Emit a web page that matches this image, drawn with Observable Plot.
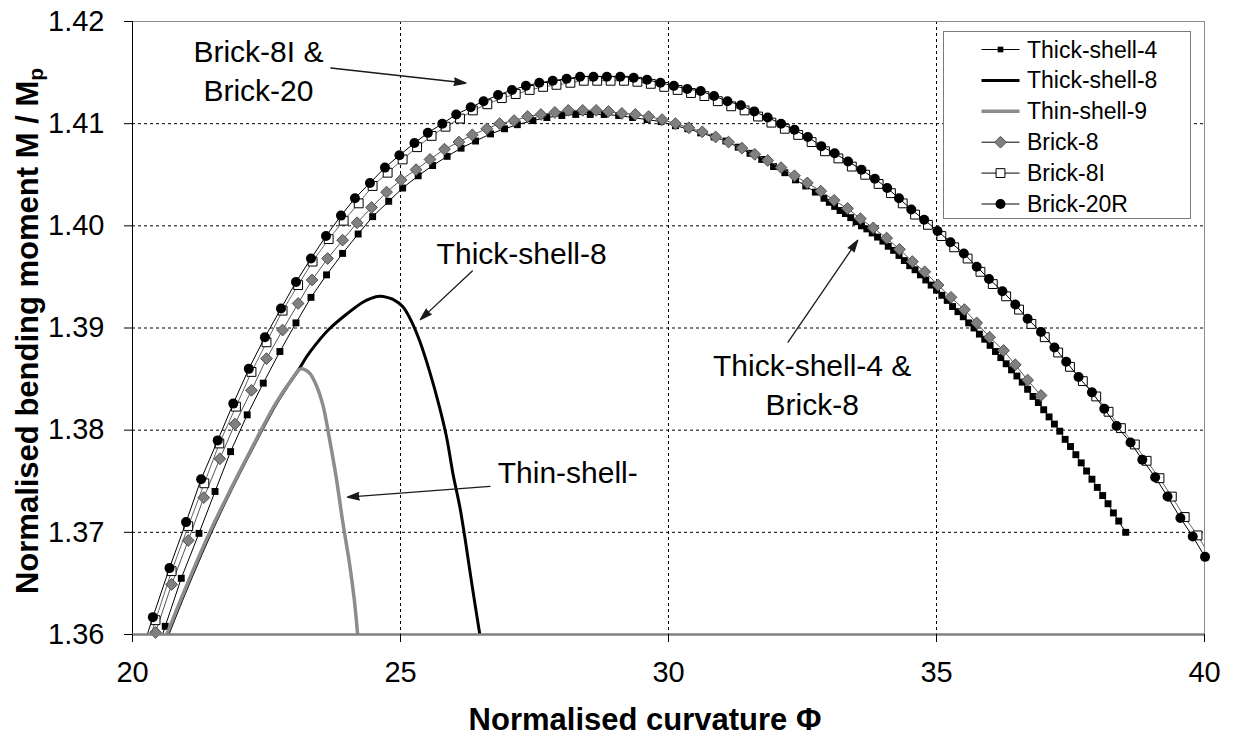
<!DOCTYPE html>
<html>
<head>
<meta charset="utf-8">
<script src="https://cdn.jsdelivr.net/npm/d3@7"></script>
<script src="https://cdn.jsdelivr.net/npm/@observablehq/plot@0.6"></script>
<style>
  body { margin: 0; background: #fff; }
  #chart { position: relative; width: 1237px; height: 738px; font-family: "Liberation Sans", Arial, sans-serif; }
  #legend { position: absolute; left: 943px; top: 31px; width: 248px; height: 188px;
            border: 1.5px solid #7a7a7a; background: #fff; box-sizing: border-box; }
</style>
</head>
<body>
<div id="chart"><div id="legend"></div></div>
<script>
// Moment–curvature response near the limit point for the different element types.
// Each series is a list of [curvature Φ, M / Mp] pairs.
const thickShell4 = [
  [20.31,1.3558],[20.61,1.3608],[20.91,1.3655],[21.24,1.3699],[21.54,1.3740],[21.83,1.3779],[22.14,1.3815],
  [22.44,1.3846],[22.75,1.3877],[23.05,1.3905],[23.33,1.3930],[23.62,1.3952],[23.92,1.3973],[24.21,1.3992],
  [24.48,1.4009],[24.78,1.4024],[25.04,1.4037],[25.33,1.4049],[25.60,1.4059],[25.87,1.4068],[26.13,1.4076],
  [26.40,1.4083],[26.68,1.4090],[26.94,1.4095],[27.18,1.4099],[27.47,1.4103],[27.73,1.4106],[28.01,1.4108],
  [28.27,1.4109],[28.54,1.4109],[28.80,1.4109],[29.07,1.4108],[29.33,1.4106],[29.60,1.4104],[29.86,1.4102],
  [30.13,1.4098],[30.36,1.4095],[30.60,1.4091],[30.85,1.4087],[31.07,1.4083],[31.30,1.4077],[31.52,1.4071],
  [31.74,1.4065],[31.96,1.4058],[32.17,1.4052],[32.37,1.4045],[32.56,1.4039],[32.74,1.4033],[32.90,1.4027],
  [33.0,1.4023],[33.1,1.4019],[33.2,1.4015],[33.3,1.4012],[33.4,1.4008],[33.5,1.4004],[33.6,1.4000],
  [33.7,1.3997],[33.8,1.3993],[33.9,1.3989],[34.0,1.3985],[34.1,1.3980],[34.2,1.3976],[34.3,1.3971],
  [34.4,1.3966],[34.5,1.3961],[34.6,1.3957],[34.7,1.3952],[34.8,1.3947],[34.9,1.3942],[35.0,1.3937],
  [35.1,1.3932],[35.2,1.3927],[35.3,1.3921],[35.4,1.3916],[35.5,1.3911],[35.6,1.3905],[35.7,1.3900],
  [35.8,1.3894],[35.9,1.3889],[36.0,1.3883],[36.1,1.3877],[36.2,1.3871],[36.3,1.3865],[36.4,1.3859],
  [36.5,1.3853],[36.6,1.3847],[36.7,1.3840],[36.8,1.3833],[36.9,1.3827],[37.0,1.3820],[37.1,1.3813],
  [37.2,1.3806],[37.3,1.3799],[37.4,1.3791],[37.5,1.3784],[37.6,1.3776],[37.7,1.3768],[37.8,1.3760],
  [37.9,1.3752],[38.0,1.3744],[38.1,1.3736],[38.2,1.3728],[38.3,1.3719],[38.4,1.3711],[38.53,1.3700]
];

const thickShell8 = [
  [20.66,1.3600],[20.99,1.3643],[21.46,1.3700],[21.86,1.3744],[22.27,1.3786],[22.67,1.3825],[22.90,1.3844],
  [23.11,1.3860],[23.25,1.3872],[23.42,1.3884],[23.67,1.3899],[23.98,1.3913],[24.29,1.3925],[24.45,1.3929],
  [24.61,1.3931],[24.75,1.3930],[24.86,1.3928],[25.04,1.3921],[25.20,1.3907],[25.36,1.3887],[25.54,1.3858],
  [25.73,1.3822],[25.86,1.3793],[25.98,1.3757],[26.11,1.3724],[26.23,1.3685],[26.35,1.3643],[26.48,1.3600]
];

const thinShell9 = [
  [20.64,1.3600],[20.98,1.3644],[21.45,1.3701],[21.86,1.3745],[22.27,1.3787],[22.67,1.3826],[22.95,1.3848],
  [23.14,1.3860],[23.30,1.3856],[23.42,1.3845],[23.55,1.3825],[23.67,1.3793],[23.80,1.3754],[23.92,1.3711],
  [24.05,1.3669],[24.14,1.3633],[24.20,1.3600]
];

const brick8 = [
  [20.13,1.3553],[20.43,1.3602],[20.73,1.3649],[21.04,1.3692],[21.33,1.3734],[21.63,1.3772],[21.91,1.3806],
  [22.22,1.3839],[22.50,1.3870],[22.80,1.3898],[23.09,1.3924],[23.35,1.3947],[23.64,1.3968],[23.92,1.3986],
  [24.19,1.4003],[24.46,1.4018],[24.74,1.4033],[25.01,1.4045],[25.29,1.4055],[25.55,1.4065],[25.82,1.4075],
  [26.09,1.4082],[26.34,1.4089],[26.61,1.4095],[26.85,1.4100],[27.12,1.4103],[27.37,1.4107],[27.62,1.4109],
  [27.88,1.4111],[28.13,1.4113],[28.40,1.4113],[28.65,1.4113],[28.88,1.4112],[29.13,1.4110],[29.38,1.4109],
  [29.63,1.4107],[29.88,1.4104],[30.13,1.4100],[30.38,1.4096],[30.63,1.4092],[30.88,1.4087],[31.12,1.4082],
  [31.37,1.4076],[31.61,1.4070],[31.85,1.4064],[32.10,1.4057],[32.35,1.4049],[32.59,1.4042],[32.84,1.4034],
  [33.09,1.4025],[33.34,1.4017],[33.58,1.4007],[33.82,1.3998],[34.07,1.3988],[34.31,1.3977],[34.55,1.3965],
  [34.78,1.3955],[35.03,1.3942],[35.27,1.3930],[35.52,1.3918],[35.75,1.3905],[35.99,1.3891],[36.25,1.3878],
  [36.47,1.3864],[36.70,1.3849],[36.95,1.3834]
];

const brick8I = [
  [20.13,1.3563],[20.43,1.3614],[20.73,1.3662],[21.04,1.3706],[21.34,1.3748],[21.62,1.3787],[21.93,1.3823],
  [22.22,1.3857],[22.50,1.3886],[22.80,1.3917],[23.09,1.3942],[23.36,1.3965],[23.66,1.3987],[23.94,1.4005],
  [24.22,1.4022],[24.48,1.4039],[24.76,1.4052],[25.04,1.4065],[25.31,1.4077],[25.58,1.4088],[25.84,1.4097],
  [26.11,1.4105],[26.35,1.4113],[26.62,1.4119],[26.89,1.4125],[27.15,1.4129],[27.41,1.4133],[27.66,1.4136],
  [27.91,1.4138],[28.17,1.4140],[28.42,1.4142],[28.67,1.4142],[28.92,1.4142],[29.17,1.4142],[29.42,1.4141],
  [29.67,1.4139],[29.92,1.4136],[30.17,1.4133],[30.42,1.4130],[30.67,1.4127],[30.92,1.4122],[31.17,1.4117],
  [31.42,1.4113],[31.67,1.4107],[31.92,1.4101],[32.17,1.4095],[32.42,1.4089],[32.67,1.4082],[32.92,1.4073],
  [33.17,1.4066],[33.42,1.4058],[33.67,1.4050],[33.92,1.4041],[34.15,1.4032],[34.37,1.4022],[34.60,1.4011],
  [34.84,1.4001],[35.09,1.3990],[35.33,1.3979],[35.58,1.3968],[35.82,1.3955],[36.05,1.3943],[36.30,1.3931],
  [36.54,1.3918],[36.77,1.3904],[37.02,1.3891],[37.27,1.3876],[37.49,1.3862],[37.73,1.3848],[37.98,1.3833],
  [38.21,1.3818],[38.44,1.3802],[38.70,1.3786],[38.92,1.3770],[39.16,1.3753],[39.39,1.3735],[39.63,1.3715],
  [39.87,1.3697],[40.11,1.3676]
];

const brick20R = [
  [20.07,1.3566],[20.38,1.3617],[20.69,1.3665],[21.00,1.3710],[21.28,1.3752],[21.59,1.3790],[21.88,1.3826],
  [22.17,1.3860],[22.47,1.3891],[22.77,1.3919],[23.05,1.3945],[23.33,1.3968],[23.61,1.3990],[23.89,1.4010],
  [24.15,1.4027],[24.43,1.4042],[24.71,1.4057],[24.98,1.4069],[25.26,1.4081],[25.51,1.4091],[25.78,1.4100],
  [26.04,1.4109],[26.31,1.4116],[26.55,1.4122],[26.82,1.4128],[27.08,1.4133],[27.34,1.4137],[27.59,1.4140],
  [27.84,1.4142],[28.10,1.4144],[28.35,1.4146],[28.60,1.4146],[28.85,1.4146],[29.10,1.4146],[29.35,1.4145],
  [29.60,1.4143],[29.85,1.4140],[30.10,1.4137],[30.35,1.4134],[30.60,1.4132],[30.85,1.4127],[31.10,1.4122],
  [31.35,1.4118],[31.60,1.4112],[31.85,1.4106],[32.10,1.4100],[32.35,1.4094],[32.60,1.4087],[32.85,1.4078],
  [33.10,1.4071],[33.35,1.4063],[33.60,1.4055],[33.85,1.4046],[34.08,1.4037],[34.30,1.4027],[34.53,1.4016],
  [34.77,1.4006],[35.02,1.3995],[35.26,1.3984],[35.51,1.3973],[35.75,1.3960],[35.98,1.3948],[36.23,1.3936],
  [36.47,1.3923],[36.70,1.3909],[36.95,1.3896],[37.20,1.3881],[37.42,1.3867],[37.65,1.3852],[37.90,1.3837],
  [38.13,1.3821],[38.36,1.3804],[38.62,1.3788],[38.84,1.3771],[39.08,1.3754],[39.31,1.3735],[39.55,1.3714],
  [39.78,1.3696],[40.01,1.3676],[40.24,1.3655]
];

const xTicks = [20, 25, 30, 35, 40];
const yTicks = [1.36, 1.37, 1.38, 1.39, 1.40, 1.41, 1.42];

// Callout labels and the arrows pointing at their curves
const notes = [
  {x: 22.35, y: 1.41539, text: "Brick-8I &\nBrick-20"},
  {x: 27.26, y: 1.39750, text: "Thick-shell-8"},
  {x: 28.12, y: 1.37606, text: "Thin-shell-"},
  {x: 32.68, y: 1.38466, text: "Thick-shell-4 &\nBrick-8"}
];
const arrows = [
  {x1: 23.70, y1: 1.41545, x2: 26.22, y2: 1.41398},
  {x1: 26.34, y1: 1.39558, x2: 25.37, y2: 1.39082},
  {x1: 26.67, y1: 1.37450, x2: 24.01, y2: 1.37345},
  {x1: 32.23, y1: 1.38862, x2: 33.53, y2: 1.39858}
];

// Drawing order and styles for each series
const series = [
  {name: "Thick-shell-4", data: thickShell4, stroke: "#000", width: 1, curve: "linear",
   symbol: "square", r: 3.9, fill: "#000", symStroke: "none"},
  {name: "Thick-shell-8", data: thickShell8, stroke: "#000", width: 3, curve: "catmull-rom"},
  {name: "Thin-shell-9", data: thinShell9, stroke: "#8c8c8c", width: 3.5, curve: "catmull-rom"},
  {name: "Brick-8", data: brick8, stroke: "#555", width: 1, curve: "linear",
   symbol: "diamond2", r: 5.3, fill: "#808080", symStroke: "#505050"},
  {name: "Brick-8I", data: brick8I, stroke: "#666", width: 1, curve: "linear",
   symbol: "square", r: 5.0, fill: "#fff", symStroke: "#000"},
  {name: "Brick-20R", data: brick20R, stroke: "#000", width: 1, curve: "linear",
   symbol: "circle", r: 5.0, fill: "#000", symStroke: "none"}
];

const inView = ([x, y]) => y >= 1.3599 && x <= 40.02;

const marks = [
  Plot.gridX(xTicks.slice(1, -1), {stroke: "#000", strokeOpacity: 1, strokeWidth: 1, strokeDasharray: "3,3"}),
  Plot.gridY(yTicks.slice(1, -1), {stroke: "#000", strokeOpacity: 1, strokeWidth: 1, strokeDasharray: "3,3"}),
  Plot.frame({stroke: "#8c8c8c"}),
  Plot.ruleX([20], {stroke: "#000", strokeWidth: 1})
];

for (const s of series) {
  marks.push(Plot.line(s.data, {
    x: d => d[0], y: d => d[1], stroke: s.stroke, strokeWidth: s.width,
    curve: s.curve, clip: true, strokeLinejoin: "round"
  }));
  if (s.symbol) {
    marks.push(Plot.dot(s.data.filter(inView), {
      x: d => d[0], y: d => d[1], symbol: () => s.symbol, r: s.r,
      fill: s.fill, stroke: s.symStroke, strokeWidth: 1
    }));
  }
}

marks.push(
  Plot.ruleY([1.36], {stroke: "#808080", strokeWidth: 2.5}),
  Plot.axisX({ticks: xTicks, tickSize: 8, tickPadding: 19, fontSize: 29, label: null, tickFormat: d3.format("d")}),
  Plot.axisY({ticks: yTicks, tickSize: 8, tickPadding: 20, fontSize: 29, label: null, tickFormat: d3.format(".2f")}),
  Plot.arrow(arrows, {x1: "x1", y1: "y1", x2: "x2", y2: "y2", stroke: "#1a1a1a", fill: "#1a1a1a",
    strokeWidth: 1.3, headLength: 14, headAngle: 34, bend: 0}),
  Plot.text(notes, {x: "x", y: "y", text: "text", fontSize: 30, lineHeight: 1.3, textAnchor: "middle", fill: "#000"})
);

const chart = Plot.plot({
  width: 1237,
  height: 738,
  marginLeft: 132,
  marginRight: 33,
  marginTop: 21,
  marginBottom: 104,
  x: {domain: [20, 40]},
  y: {domain: [1.36, 1.42]},
  style: {fontFamily: '"Liberation Sans", Arial, sans-serif', fontSize: "29px", color: "#000", background: "#fff", overflow: "visible"},
  marks
});

const container = document.getElementById("chart");
container.insertBefore(chart, container.firstChild);

// Axis titles
const svg = d3.select(chart);
svg.append("text")
  .attr("x", 645).attr("y", 730)
  .attr("text-anchor", "middle")
  .attr("font-weight", "bold").attr("font-size", 31)
  .attr("fill", "#000")
  .text("Normalised curvature Φ");

const yTitle = svg.append("text")
  .attr("transform", "translate(38,331) rotate(-90)")
  .attr("text-anchor", "middle")
  .attr("font-weight", "bold").attr("font-size", 31)
  .attr("fill", "#000");
yTitle.append("tspan").text("Normalised bending moment M / M");
yTitle.append("tspan").attr("font-size", 21).attr("dy", 5).text("p");

// Legend
const legend = d3.select("#legend").append("svg")
  .attr("width", 246).attr("height", 186)
  .style("display", "block")
  .style("font-family", '"Liberation Sans", Arial, sans-serif');

series.forEach((s, i) => {
  const cy = 17.5 + i * 30.9;
  const g = legend.append("g");
  g.append("line")
    .attr("x1", 37.5).attr("x2", 75.5).attr("y1", cy).attr("y2", cy)
    .attr("stroke", s.symbol ? "#000" : s.stroke)
    .attr("stroke-width", s.symbol ? 1 : s.width);
  if (s.symbol) {
    const type = {circle: d3.symbolCircle, square: d3.symbolSquare, diamond2: d3.symbolDiamond2}[s.symbol];
    const rr = s.name === "Thick-shell-4" ? 3.2 : s.r;
    g.append("path")
      .attr("transform", `translate(56.5,${cy})`)
      .attr("d", d3.symbol(type, Math.PI * rr * rr)())
      .attr("fill", s.fill)
      .attr("stroke", s.symStroke)
      .attr("stroke-width", 1);
  }
  g.append("text")
    .attr("x", 83).attr("y", cy)
    .attr("dy", "0.35em")
    .attr("font-size", 23)
    .attr("fill", "#000")
    .text(s.name);
});
</script>
</body>
</html>
